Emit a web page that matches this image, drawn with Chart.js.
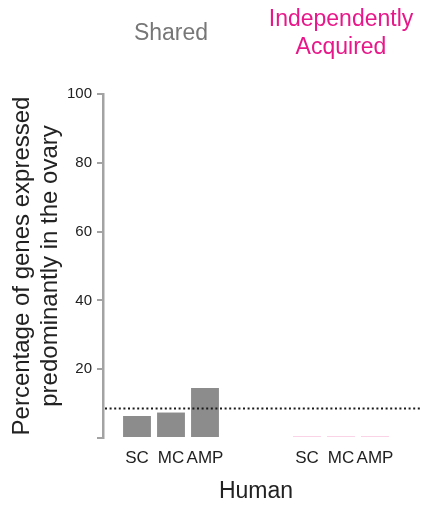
<!DOCTYPE html>
<html>
<head>
<meta charset="utf-8">
<script src="https://cdn.jsdelivr.net/npm/chart.js@4"></script>
<style>
  html, body { margin: 0; padding: 0; background: #fff; }
  #grafico { display: block; }
</style>
</head>
<body>
<canvas id="grafico" width="425" height="505"></canvas>
<script>
// datos
const categorias = ['SC', 'MC', 'AMP'];
const grupos = ['Shared', ['Independently', 'Acquired']];
const valoresShared = [6.4, 7.4, 14.5];
const valoresIndependent = [0, 0, 0];
const umbral = 8.7;
const ticksY = [0, 20, 40, 60, 80, 100];
const tituloY = ['Percentage of genes expressed', 'predominantly in the ovary'];
const tituloX = 'Human';

const colorShared = '#8c8c8c';
const colorIndep = '#f5a6cf';
const colorGrupos = ['#777777', '#e8178a'];
const fuente = '"Liberation Sans", Arial, Helvetica, sans-serif';

// etiquetas con huecos entre grupos
const etiquetas = [''].concat(categorias, ['', ''], categorias);
const valores = [null].concat(valoresShared, [null, null], valoresIndependent);
const colores = [null].concat(categorias.map(() => colorShared), [null, null], categorias.map(() => colorIndep));

// índices de cada grupo en el eje x
const indicesGrupo = [
  categorias.map((c, i) => 1 + i),
  categorias.map((c, i) => 1 + categorias.length + 2 + i)
];

const extras = {
  id: 'extras',
  afterDraw(chart) {
    const ctx = chart.ctx;
    const x = chart.scales.x;
    const y = chart.scales.y;
    const area = chart.chartArea;

    // línea punteada del umbral
    ctx.save();
    ctx.strokeStyle = '#1a1a1a';
    ctx.lineWidth = 2;
    ctx.setLineDash([2, 2.6]);
    const yu = Math.round(y.getPixelForValue(umbral)) + 0.5;
    ctx.beginPath();
    ctx.moveTo(area.left + 2, yu);
    ctx.lineTo(chart.width - 5, yu);
    ctx.stroke();
    ctx.restore();

    // títulos de grupo
    ctx.save();
    ctx.font = '23px ' + fuente;
    ctx.textAlign = 'center';
    ctx.textBaseline = 'middle';
    grupos.forEach((g, gi) => {
      const idx = indicesGrupo[gi];
      const cx = (x.getPixelForValue(idx[0]) + x.getPixelForValue(idx[idx.length - 1])) / 2;
      ctx.fillStyle = colorGrupos[gi];
      const lineas = Array.isArray(g) ? g : [g];
      const alto = 28;
      const y0 = 34 - (lineas.length - 1) * alto / 2;
      lineas.forEach((l, li) => ctx.fillText(l, cx, y0 + li * alto));
    });

    // título del eje x centrado sobre las barras
    const primero = indicesGrupo[0][0];
    const ultimo = indicesGrupo[1][indicesGrupo[1].length - 1];
    ctx.fillStyle = '#222';
    ctx.fillText(tituloX, (x.getPixelForValue(primero) + x.getPixelForValue(ultimo)) / 2, 492);
    ctx.restore();
  }
};

new Chart(document.getElementById('grafico').getContext('2d'), {
  type: 'bar',
  data: {
    labels: etiquetas,
    datasets: [{
      data: valores,
      backgroundColor: colores,
      barPercentage: 0.82,
      categoryPercentage: 1,
      minBarLength: 1.5,
      borderWidth: 0,
      clip: false
    }]
  },
  options: {
    responsive: false,
    animation: false,
    layout: { padding: { top: 94, right: 50, left: 0, bottom: 0 } },
    plugins: {
      legend: { display: false },
      tooltip: { enabled: false }
    },
    scales: {
      x: {
        offset: false,
        grid: { display: false, drawTicks: false },
        border: { display: false },
        ticks: {
          autoSkip: false,
          maxRotation: 0,
          padding: 10,
          color: '#222',
          font: { family: fuente, size: 17 }
        },
        afterFit(scale) { scale.height = 67; }
      },
      y: {
        min: 0,
        max: 100,
        afterBuildTicks(scale) { scale.ticks = ticksY.map(v => ({ value: v })); },
        grid: { drawOnChartArea: false, drawTicks: true, tickLength: 6, color: '#a3a3a3', lineWidth: 2 },
        border: { color: '#a3a3a3', width: 2.5 },
        ticks: {
          padding: 5,
          color: '#222',
          font: { family: fuente, size: 15 },
          callback: v => (v === 0 ? '' : v)
        },
        title: {
          display: true,
          text: tituloY,
          color: '#222',
          font: { family: fuente, size: 24, lineHeight: 1.2 },
          padding: { top: 7.6, bottom: 0 }
        },
        afterFit(scale) { scale.width = 103; }
      }
    }
  },
  plugins: [extras]
});
</script>
</body>
</html>
